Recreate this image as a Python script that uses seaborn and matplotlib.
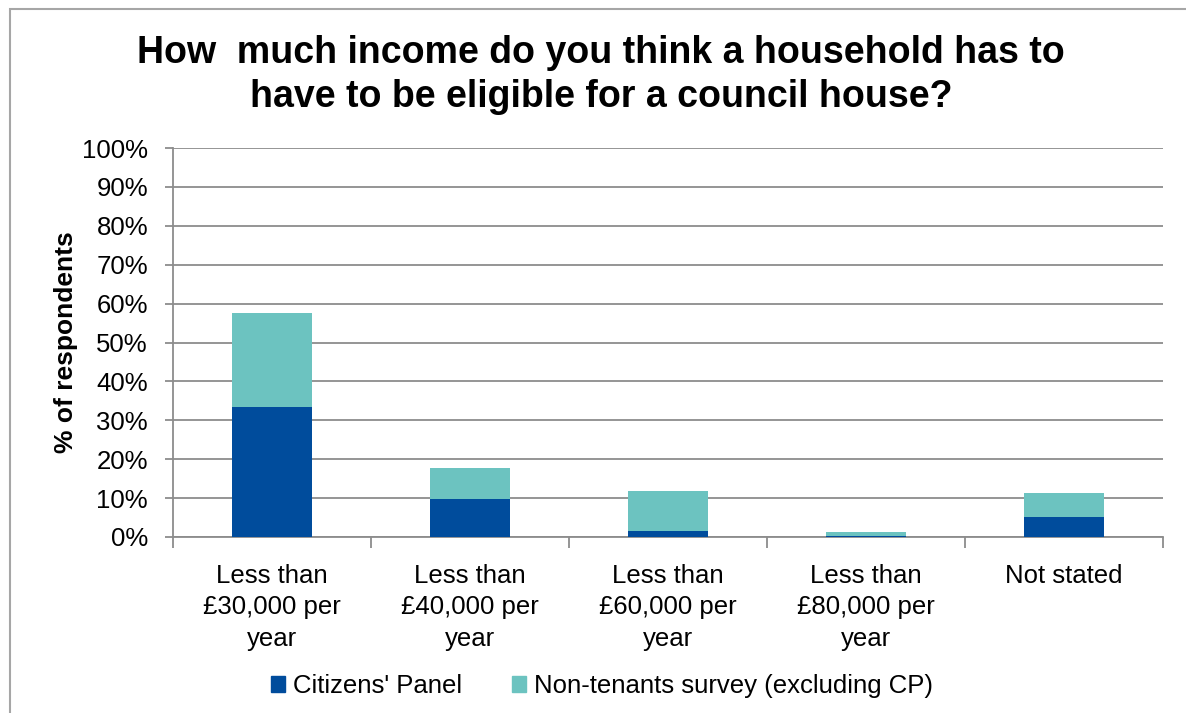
import matplotlib
matplotlib.use("Agg")
import matplotlib.pyplot as plt
from matplotlib.patches import Rectangle
from matplotlib.ticker import FixedLocator, PercentFormatter
import seaborn as sns
import pandas as pd

categories = [
    "Less than\n£30,000 per\nyear",
    "Less than\n£40,000 per\nyear",
    "Less than\n£60,000 per\nyear",
    "Less than\n£80,000 per\nyear",
    "Not stated",
]
citizens_panel = [33.3, 9.8, 1.5, 0.2, 5.2]
non_tenants = [24.3, 7.9, 10.2, 1.2, 6.0]
series_names = ["Citizens' Panel", "Non-tenants survey (excluding CP)"]
y_ticks = list(range(0, 101, 10))

CP_COLOR = "#004C9C"
NT_COLOR = "#6CC3C0"
GRID_COLOR = "#8C8C8C"
FS = 18.5

sns.set_theme(style="white")
plt.rcParams["font.family"] = ["Liberation Sans", "DejaVu Sans"]
plt.rcParams["text.color"] = "black"
plt.rcParams["axes.labelcolor"] = "black"
plt.rcParams["xtick.color"] = "black"
plt.rcParams["ytick.color"] = "black"

df = pd.DataFrame({
    "category": categories,
    "cp": citizens_panel,
    "total": [a + b for a, b in zip(citizens_panel, non_tenants)],
})

fig = plt.figure(figsize=(11.86, 7.13), dpi=100)
ax = fig.add_axes([173 / 1186, 1 - 537 / 713, 990 / 1186, 389 / 713])

# stacked bars: full height in teal, lower segment in blue on top
sns.barplot(data=df, x="category", y="total", color=NT_COLOR, width=0.4,
            saturation=1, ax=ax, zorder=3, linewidth=0)
sns.barplot(data=df, x="category", y="cp", color=CP_COLOR, width=0.4,
            saturation=1, ax=ax, zorder=4, linewidth=0)

ax.set_xlim(-0.5, len(categories) - 0.5)
ax.set_ylim(0, 100)
ax.yaxis.set_major_locator(FixedLocator(y_ticks))
ax.yaxis.set_major_formatter(PercentFormatter(decimals=0))
ax.grid(axis="y", color=GRID_COLOR, linewidth=1.3, zorder=0)
ax.grid(axis="x", visible=False)

# category labels on minor ticks, tick marks between categories
ax.set_xticks([i for i in range(len(categories))], minor=True)
ax.set_xticklabels(categories, minor=True)
ax.set_xticks([i - 0.5 for i in range(len(categories) + 1)])
ax.set_xticklabels([])
ax.tick_params(axis="x", which="minor", length=0, pad=19.5, labelsize=FS,
               labelcolor="black")
ax.tick_params(axis="x", which="major", direction="out", length=8,
               width=1.3, color=GRID_COLOR, bottom=True)
ax.tick_params(axis="y", direction="out", length=6, width=1.3,
               color=GRID_COLOR, left=True, labelsize=FS, pad=12,
               labelcolor="black")

for side in ["top", "right"]:
    ax.spines[side].set_visible(False)
for side in ["left", "bottom"]:
    ax.spines[side].set_color(GRID_COLOR)
    ax.spines[side].set_linewidth(1.3)

ax.set_xlabel("")
ax.set_ylabel("% of respondents", fontsize=FS + 0.5, fontweight="bold",
              labelpad=3)

fig.text(601 / 1186, 1 - 75 / 713,
         "How  much income do you think a household has to\nhave to be eligible for a council house?",
         ha="center", va="center", fontsize=27, fontweight="bold",
         linespacing=1.27)

handles = [Rectangle((0, 0), 1, 1, color=CP_COLOR),
           Rectangle((0, 0), 1, 1, color=NT_COLOR)]
fig.legend(handles, series_names, loc="center",
           bbox_to_anchor=(602 / 1186, 1 - 686 / 713), ncol=2, frameon=False,
           fontsize=FS, handlelength=0.55, handleheight=0.55,
           handletextpad=0.3, columnspacing=1.95)

# outer chart border
fig.patches.append(Rectangle((10 / 1186, -0.1), 1.2, 1.1 - 9 / 713,
                             transform=fig.transFigure, fill=False,
                             edgecolor="#A6A6A6", linewidth=1.5))

fig.canvas.draw()
for lbl in ax.xaxis.get_minorticklabels():
    lbl.set_linespacing(1.38)

fig.savefig("out.png", dpi=100)
